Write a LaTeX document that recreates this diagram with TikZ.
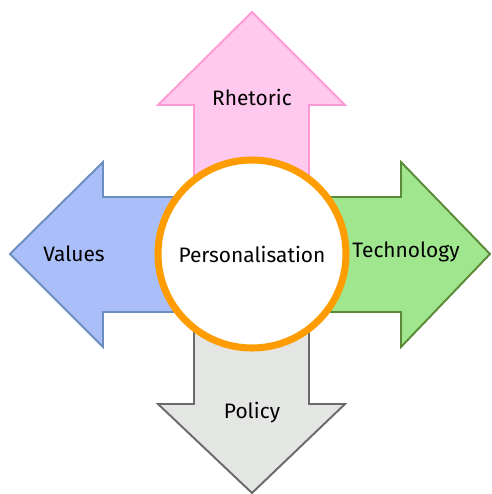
\documentclass[tikz,border=0pt]{standalone}
\usepackage{fontspec}
\setmainfont{Fira Sans}
\usepackage{xcolor}

\definecolor{rhetfill}{HTML}{FFC8EE}
\definecolor{rhetline}{HTML}{FF99D6}
\definecolor{valfill}{HTML}{AABFFA}
\definecolor{valline}{HTML}{6C8EBF}
\definecolor{techfill}{HTML}{A0E68E}
\definecolor{techline}{HTML}{5A8A38}
\definecolor{polfill}{HTML}{E4E6E3}
\definecolor{polline}{HTML}{6A6A6A}
\definecolor{ringline}{HTML}{FF9C00}

\tikzset{
  arrowshape/.style={line width=1.1pt, line join=miter},
  label/.style={font=\fontsize{11.9}{14}\selectfont, text=black}
}

\begin{document}
\begin{tikzpicture}[x=0.02cm, y=-0.02cm]
  % fix the page to the reference size
  \useasboundingbox (0,0) rectangle (491,494);

  % the four arrows
  \draw[arrowshape, draw=rhetline, fill=rhetfill]
    (194,254) -- (194,105) -- (158,105) -- (252,12) -- (345,105) -- (309,105) -- (309,254) -- cycle;
  \draw[arrowshape, draw=polline, fill=polfill]
    (194,254) -- (194,404) -- (158,404) -- (252,493) -- (345,404) -- (309,404) -- (309,254) -- cycle;
  \draw[arrowshape, draw=valline, fill=valfill]
    (252,197) -- (103,197) -- (103,162) -- (10,254) -- (103,347) -- (103,312) -- (252,312) -- cycle;
  \draw[arrowshape, draw=techline, fill=techfill]
    (252,197) -- (401,197) -- (401,162) -- (490,254) -- (401,347) -- (401,312) -- (252,312) -- cycle;

  % centre ring
  \node[circle, draw=ringline, line width=4pt, fill=white, minimum size=188*0.02cm, inner sep=0pt]
    (centre) at (252,254) {};

  % labels
  \node[label] (rhetoric) at (252,97) {Rhetoric};
  \node[label] (policy) at (252,413) {Policy};
  \node[label] (values) at (74,254) {Values};
  \node[label] (technology) at (406,252) {Technology};
  \node[label] (personal) at (centre) {Personalisation};
\end{tikzpicture}
\end{document}
